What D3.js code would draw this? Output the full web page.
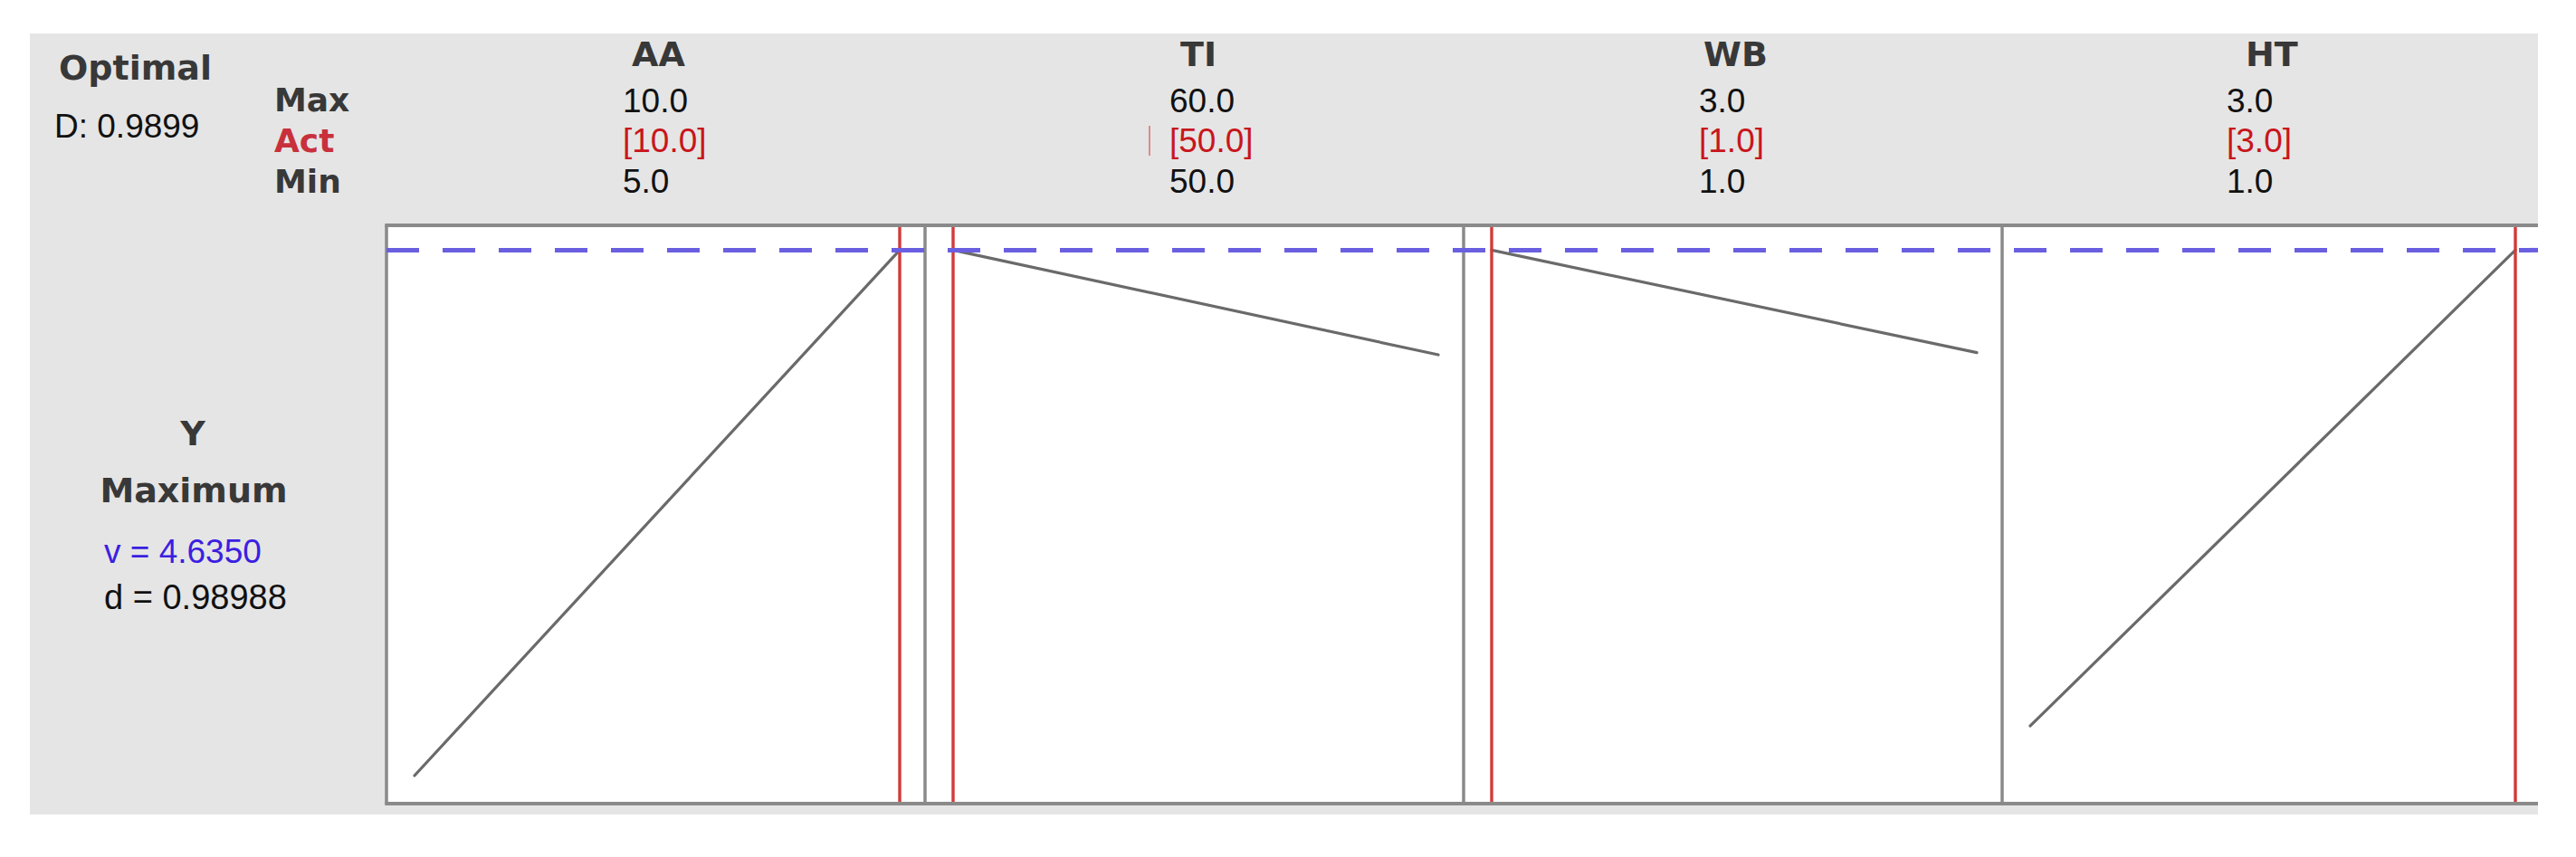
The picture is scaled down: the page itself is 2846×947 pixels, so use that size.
<!DOCTYPE html>
<html>
<head>
<meta charset="utf-8">
<script src="https://cdn.jsdelivr.net/npm/d3@7"></script>
<style>
  html, body { margin: 0; padding: 0; background: #ffffff; }
  svg { display: block; }
</style>
</head>
<body>
<svg id="chart" width="2846" height="947"></svg>
<script>
// ---------------- data ----------------
const factors   = ["AA", "TI", "WB", "HT"];
const maxVals   = [10.0, 60.0, 3.0, 3.0];
const actVals   = [10.0, 50.0, 1.0, 3.0];
const minVals   = [5.0, 50.0, 1.0, 1.0];
// response curve end points (factor value, predicted Y) per factor
const curveX    = [[5.0, 10.0], [50.0, 60.0], [1.0, 3.0], [1.0, 3.0]];
const curveY    = [[2.20, 4.635], [4.635, 4.15], [4.635, 4.16], [2.43, 4.635]];
const optimalY  = 4.635;
const yDomain   = [2.07, 4.75];
const compositeD = 0.9899;
const responseName = "Y";
const goalName = "Maximum";
const indivD = 0.98988;

// ---------------- layout ----------------
const W = 2846, H = 947;
const bg = { x0: 33, y0: 37, x1: 2804, y1: 900 };
const plotTop = 249, plotBottom = 888;
const panelLeft0 = 427, panelW = 595;
const padL = 31, padR = 28;
const textOffsets = [261, 270, 260, 248];
const headOffsets = [271, 282, 265, 269];

const numFont = "'Liberation Sans', Arial, sans-serif";
const labFont = "'DejaVu Sans', Verdana, sans-serif";

const svg = d3.select("#chart");
svg.append("rect").attr("x", 0).attr("y", 0).attr("width", W).attr("height", H).attr("fill", "#ffffff");
svg.append("rect").attr("x", bg.x0).attr("y", bg.y0)
  .attr("width", bg.x1 - bg.x0).attr("height", bg.y1 - bg.y0).attr("fill", "#e5e5e5");

const panelScale = d3.scaleBand().domain(factors)
  .range([panelLeft0, panelLeft0 + panelW * factors.length]).padding(0);
const y = d3.scaleLinear().domain(yDomain).range([plotBottom, plotTop]);

// white plotting area
svg.append("rect").attr("x", panelLeft0).attr("y", plotTop)
  .attr("width", bg.x1 - panelLeft0).attr("height", plotBottom - plotTop)
  .attr("fill", "#ffffff");

const fmt = d3.format(".1f");

factors.forEach((f, i) => {
  const left = panelScale(f);
  const x = d3.scaleLinear().domain([minVals[i], maxVals[i]])
    .range([left + padL, left + panelW - padR]);

  // panel left border
  svg.append("line").attr("x1", left).attr("x2", left)
    .attr("y1", plotTop).attr("y2", plotBottom)
    .attr("stroke", "#8a8a8a").attr("stroke-width", 3.5);

  // response curve
  const pts = curveX[i].map((xv, k) => [x(xv), y(curveY[i][k])]);
  svg.append("path").attr("d", d3.line()(pts))
    .attr("fill", "none").attr("stroke", "#6a6a6a").attr("stroke-width", 3.2)
    .attr("stroke-linecap", "round");

  // current setting (red vertical)
  svg.append("line").attr("x1", x(actVals[i])).attr("x2", x(actVals[i]))
    .attr("y1", plotTop).attr("y2", plotBottom)
    .attr("stroke", "#d33a3a").attr("stroke-width", 3.4);

  // header texts
  const tx = left + textOffsets[i];
  svg.append("text").attr("x", left + headOffsets[i]).attr("y", 73)
    .attr("font-family", labFont).attr("font-weight", "bold").attr("font-size", 38)
    .attr("fill", "#383838").text(f);
  svg.append("text").attr("x", tx).attr("y", 124)
    .attr("font-family", numFont).attr("font-size", 37).attr("fill", "#111")
    .text(fmt(maxVals[i]));
  svg.append("text").attr("x", tx).attr("y", 168)
    .attr("font-family", numFont).attr("font-size", 37).attr("fill", "#c8161c")
    .text("[" + fmt(actVals[i]) + "]");
  svg.append("text").attr("x", tx).attr("y", 213)
    .attr("font-family", numFont).attr("font-size", 37).attr("fill", "#111")
    .text(fmt(minVals[i]));
});

// small slider mark near the TI current value
const tiLeft = panelScale("TI");
svg.append("line").attr("x1", tiLeft + 248).attr("x2", tiLeft + 248)
  .attr("y1", 139).attr("y2", 172)
  .attr("stroke", "#d66").attr("stroke-width", 2).attr("opacity", 0.7);

// top and bottom borders of the plotting strip
[plotTop, plotBottom].forEach(yy => {
  svg.append("line").attr("x1", panelLeft0 - 1.75).attr("x2", bg.x1)
    .attr("y1", yy).attr("y2", yy)
    .attr("stroke", "#8a8a8a").attr("stroke-width", 4);
});

// optimal response dashed line
svg.append("line").attr("x1", panelLeft0).attr("x2", bg.x1)
  .attr("y1", y(optimalY)).attr("y2", y(optimalY))
  .attr("stroke", "#6a5fe0").attr("stroke-width", 5)
  .attr("stroke-dasharray", "36,26");

// left-hand labels
svg.append("text").attr("x", 65).attr("y", 88)
  .attr("font-family", labFont).attr("font-weight", "bold").attr("font-size", 38)
  .attr("fill", "#383838").text("Optimal");
svg.append("text").attr("x", 60).attr("y", 152)
  .attr("font-family", numFont).attr("font-size", 37).attr("fill", "#111")
  .text("D: " + d3.format(".4f")(compositeD));

const rowLab = [["Max", 123, "#383838"], ["Act", 168, "#c8303c"], ["Min", 213, "#383838"]];
rowLab.forEach(r => {
  svg.append("text").attr("x", 303).attr("y", r[1])
    .attr("font-family", labFont).attr("font-weight", "bold").attr("font-size", 36)
    .attr("fill", r[2]).text(r[0]);
});

svg.append("text").attr("x", 213).attr("y", 492).attr("text-anchor", "middle")
  .attr("font-family", labFont).attr("font-weight", "bold").attr("font-size", 38)
  .attr("fill", "#383838").text(responseName);
svg.append("text").attr("x", 214).attr("y", 555).attr("text-anchor", "middle")
  .attr("font-family", labFont).attr("font-weight", "bold").attr("font-size", 38)
  .attr("fill", "#383838").text(goalName);
svg.append("text").attr("x", 115).attr("y", 622)
  .attr("font-family", numFont).attr("font-size", 37).attr("fill", "#3b1fe0")
  .text("v = " + d3.format(".4f")(optimalY));
svg.append("text").attr("x", 115).attr("y", 673)
  .attr("font-family", numFont).attr("font-size", 38).attr("fill", "#111")
  .text("d = " + d3.format(".5f")(indivD));
</script>
</body>
</html>
